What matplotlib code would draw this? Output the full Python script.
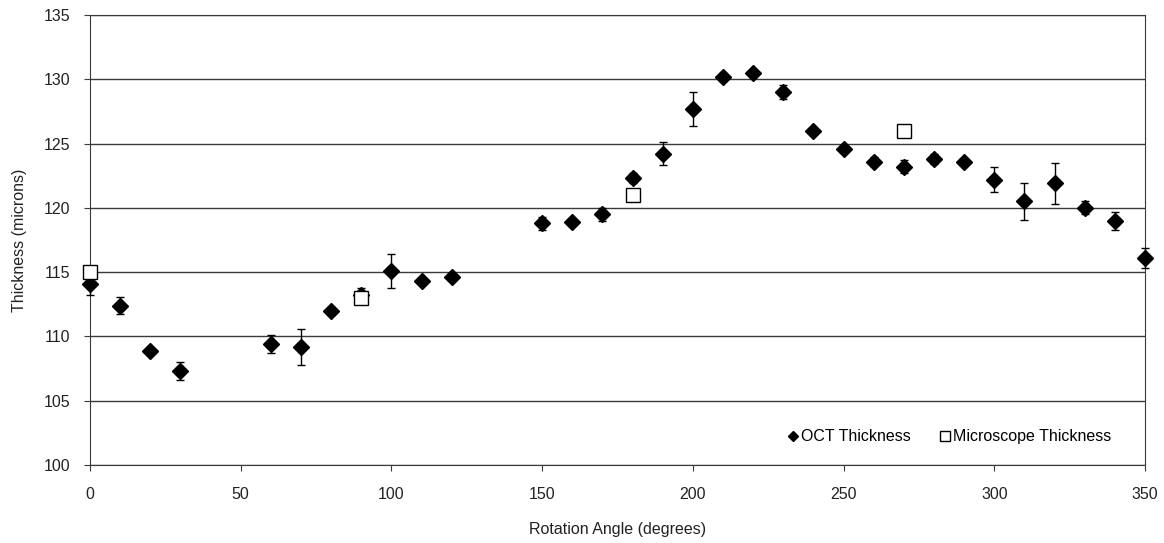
import numpy as np
import matplotlib.pyplot as plt
from matplotlib.lines import Line2D

plt.rcParams['font.family'] = ['Liberation Sans', 'DejaVu Sans']

# OCT thickness measurements (degrees, microns, +/- error)
oct_angle = [0, 10, 20, 30, 60, 70, 80, 90, 100, 110, 120, 150, 160, 170, 180, 190,
             200, 210, 220, 230, 240, 250, 260, 270, 280, 290, 300, 310, 320, 330, 340, 350]
oct_thick = [114.1, 112.4, 108.9, 107.3, 109.4, 109.2, 112.0, 113.2, 115.1, 114.3, 114.6,
             118.8, 118.9, 119.5, 122.3, 124.2, 127.7, 130.2, 130.5, 129.0, 126.0, 124.6,
             123.6, 123.2, 123.8, 123.6, 122.2, 120.5, 121.9, 120.0, 119.0, 116.1]
oct_err = [0.9, 0.65, 0.2, 0.7, 0.7, 1.4, 0.3, 0.55, 1.3, 0.2, 0.2, 0.5, 0.2, 0.5, 0.4,
           0.9, 1.3, 0.3, 0.2, 0.55, 0.2, 0.2, 0.35, 0.5, 0.4, 0.2, 0.95, 1.45, 1.6,
           0.5, 0.7, 0.75]

# microscope thickness
mic_angle = [0, 90, 180, 270]
mic_thick = [115, 113, 121, 126]

fig, ax = plt.subplots(figsize=(11.64, 5.43), dpi=100)
fig.subplots_adjust(left=0.0773, right=0.9837, top=0.9724, bottom=0.1436)

eb = ax.errorbar(oct_angle, oct_thick, yerr=oct_err, fmt='D', color='black', ms=8,
                 ecolor='black', elinewidth=1, capsize=3, capthick=1, zorder=3)
for art in [eb[0], *eb[1], *eb[2]]:
    art.set_clip_on(False)
ax.plot(mic_angle, mic_thick, 's', ms=10, mfc='white', mec='black', mew=1,
        zorder=4, clip_on=False)

ax.set_xlim(0, 350)
ax.set_ylim(100, 135)
ax.set_xticks(np.arange(0, 351, 50))
ax.set_yticks(np.arange(100, 136, 5))
ax.yaxis.grid(True, color='#3a3a3a', linewidth=1)
ax.set_axisbelow(True)
for s in ax.spines.values():
    s.set_color('#3a3a3a')
ax.tick_params(labelsize=11.5, color='#3a3a3a', labelcolor='#222222',
               direction='out', length=4)
ax.tick_params(axis='y', pad=10)
ax.tick_params(axis='x', pad=12)

ax.set_xlabel('Rotation Angle (degrees)', fontsize=11.5, labelpad=14, color='#222222')
ax.set_ylabel('Thickness (microns)', fontsize=11.5, labelpad=12, color='#222222')

handles = [Line2D([], [], ls='', marker='D', ms=5, color='black'),
           Line2D([], [], ls='', marker='s', ms=7, mfc='white', mec='black', mew=1)]
ax.legend(handles, ['OCT Thickness', 'Microscope Thickness'], loc='lower right',
          bbox_to_anchor=(0.982, 0.014), ncol=2, frameon=False, fontsize=11.5,
          handlelength=0.6, handletextpad=0.2, columnspacing=1.9)

fig.savefig('out.png', dpi=100)
